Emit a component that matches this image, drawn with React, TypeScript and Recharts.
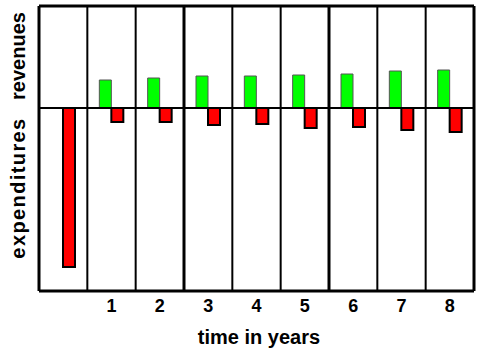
import { BarChart, Bar, XAxis, YAxis, CartesianGrid, ReferenceLine } from 'recharts';

// category labels (first column has no label)
const years = ['', '1', '2', '3', '4', '5', '6', '7', '8'];
const revenues = [0, 28, 30, 32, 32, 33, 34, 37, 38];
const expenditures = [-159, -14, -14, -17, -16, -20, -19, -22, -24];

const data = years.map((year, i) => ({
  year,
  revenues: revenues[i],
  expenditures: expenditures[i],
}));

const font = '"Liberation Sans", Arial, sans-serif';

const YearTick = (props: any) => {
  const { x, y, payload } = props;
  return (
    <text
      x={x}
      y={y + 13}
      textAnchor='middle'
      fontFamily={font}
      fontWeight='bold'
      fontSize={18}
      fill='#000'
    >
      {payload.value}
    </text>
  );
};

// boundaries between categories
const boundaries = (every: number) => (args: any) => {
  const { offset } = args;
  const step = offset.width / years.length;
  const out: number[] = [];
  for (let i = 0; i <= years.length; i += every) out.push(offset.left + i * step);
  return out;
};

const frameRows = (args: any) => {
  const { offset } = args;
  return [offset.top, offset.top + offset.height];
};

export default function App() {
  return (
    <div style={{ position: 'absolute', left: 0, top: 0, width: 480, height: 352, background: '#fff' }}>
      <BarChart
        width={480}
        height={352}
        data={data}
        margin={{ top: 6, right: 6, left: 39, bottom: 31 }}
        barGap={0}
        barSize={12}
      >
        <CartesianGrid
          horizontal={false}
          verticalCoordinatesGenerator={boundaries(1)}
          stroke='#000'
          strokeWidth={2}
        />
        <CartesianGrid
          horizontal={false}
          verticalCoordinatesGenerator={boundaries(3)}
          stroke='#000'
          strokeWidth={3}
        />
        <CartesianGrid
          vertical={false}
          horizontalCoordinatesGenerator={frameRows}
          stroke='#000'
          strokeWidth={3}
        />
        <XAxis
          dataKey='year'
          height={30}
          axisLine={false}
          tickLine={false}
          interval={0}
          tick={<YearTick />}
        />
        <YAxis hide domain={[-183, 102]} />
        <Bar dataKey='revenues' fill='#00ff00' stroke='#555' strokeWidth={1} isAnimationActive={false} />
        <Bar dataKey='expenditures' fill='#ff0000' stroke='#000' strokeWidth={2} isAnimationActive={false} />
        <ReferenceLine y={0} stroke='#000' strokeWidth={2} />
      </BarChart>
      <svg
        width={480}
        height={352}
        style={{ position: 'absolute', left: 0, top: 0, pointerEvents: 'none' }}
      >
        <g fontFamily={font} fontWeight='bold' fontSize={20} fill='#000'>
          <text x={25} y={56} textAnchor='middle' transform='rotate(-90 25 56)'>
            revenues
          </text>
          <text
            x={25}
            y={188}
            textAnchor='middle'
            letterSpacing={1.4}
            transform='rotate(-90 25 188)'
          >
            expenditures
          </text>
          <text x={259} y={344} textAnchor='middle'>
            time in years
          </text>
        </g>
      </svg>
    </div>
  );
}
